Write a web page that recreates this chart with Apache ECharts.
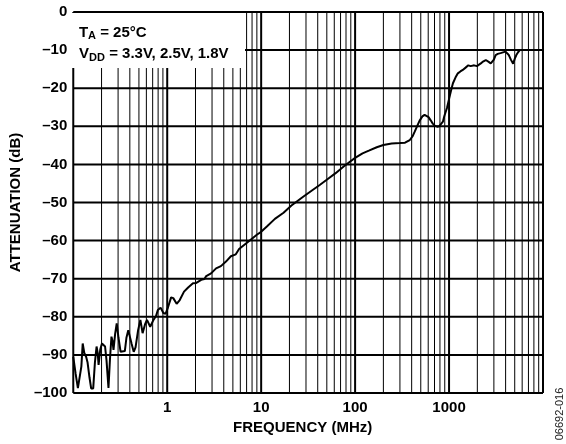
<!DOCTYPE html>
<html>
<head>
<meta charset="utf-8">
<script src="https://cdn.jsdelivr.net/npm/echarts@6/dist/echarts.min.js"></script>
<style>
  html, body { margin: 0; padding: 0; background: #fff; }
  #main { width: 566px; height: 444px; }
</style>
</head>
<body>
<div id="main"></div>
<script>
// 频率 (MHz) 与衰减 (dB)
var freqMHz = [
  0.100, 0.106, 0.112, 0.117, 0.122, 0.126, 0.131, 0.137, 0.142, 0.149,
  0.155, 0.163, 0.170, 0.177, 0.182, 0.186, 0.194, 0.202, 0.210, 0.218,
  0.226, 0.237, 0.246, 0.255, 0.262, 0.268, 0.279, 0.290, 0.303, 0.319,
  0.335, 0.354, 0.368, 0.385, 0.400, 0.417, 0.440, 0.460, 0.490, 0.518,
  0.547, 0.580, 0.609, 0.659, 0.714, 0.760, 0.795, 0.850, 0.910, 0.960,
  1.02, 1.10, 1.16, 1.26, 1.36, 1.51, 1.67, 1.88, 2.04, 2.30,
  2.49, 2.60, 2.93, 3.31, 3.73, 4.22, 4.76, 5.37, 5.82, 7.11,
  9.06, 10, 11.5, 14, 17.3, 21, 28, 35, 42, 52,
  62, 75, 88, 100, 120, 140, 170, 200, 245, 300,
  340, 382, 410, 431, 460, 486, 520, 549, 575, 605,
  640, 671, 710, 747, 785, 822, 860, 891, 950, 1005,
  1050, 1100, 1170, 1240, 1320, 1400, 1500, 1603, 1700, 1782,
  1850, 1918, 1980, 2042, 2178, 2300, 2460, 2550, 2643, 2780,
  2892, 3000, 3133, 3300, 3532, 3750, 3990, 4150, 4325, 4550,
  4808, 5000, 5200, 5450, 5662
];
var attenDb = [
  -90.5, -95, -98.7, -99.2, -93, -87.0, -89.5, -90.5, -92, -96,
  -98.8, -98.8, -92, -87.8, -89.5, -92.6, -88.5, -87, -87.5, -87.8,
  -91.5, -98.7, -91, -85.2, -86.5, -88.7, -84.5, -81.7, -85.5, -89.2,
  -89.3, -89.0, -85.5, -83.5, -84, -87, -89.2, -88, -83.5, -80.8,
  -84.3, -82, -80.8, -82.6, -80.8, -79.8, -78.2, -77.6, -79.0, -79.2,
  -77.5, -74.9, -75.1, -76.6, -75.6, -73.4, -72.3, -71.2, -71.1, -70.3,
  -70.1, -69.3, -68.6, -67.3, -66.7, -65.5, -64.1, -63.6, -62.2, -60.5,
  -58.4, -57.7, -56.3, -54.3, -52.7, -50.8, -48.5, -46.8, -45.4, -43.7,
  -42.3, -40.6, -39.3, -38.3, -37.1, -36.4, -35.5, -34.9, -34.5, -34.4,
  -34.3, -33.6, -32.6, -31.4, -29.8, -28.5, -27.4, -27.0, -27.2, -27.6,
  -28.5, -29.3, -29.9, -30.1, -30.0, -29.8, -28.8, -27.3, -25.2, -22.6,
  -20.6, -18.7, -17.2, -16.1, -15.6, -15.2, -14.6, -14.0, -14.2, -14.3,
  -14.0, -13.9, -14.2, -14.0, -13.5, -13.0, -12.6, -12.9, -13.1, -13.5,
  -13.9, -12.5, -11.3, -11.0, -10.8, -10.6, -10.4, -10.6, -11.3, -12.5,
  -13.6, -12.3, -11.3, -10.5, -10.0
];

// x轴标签只显示这几个
var xTickLabels = ['1', '10', '100', '1000'];
// 对数网格：十倍频程和里面的细线
var decades = [0.1, 1, 10, 100, 1000, 10000];
var minorMults = [2, 3, 4, 5, 6, 7, 8, 9];
// 水平网格线 (dB)，含上下边框
var yGridDb = [-100, -90, -80, -70, -60, -50, -40, -30, -20, -10, 0];
var xMin = 0.1, xMax = 10000, yMin = -100, yMax = 0;

var chart = echarts.init(document.getElementById('main'));

var lineData = freqMHz.map(function (f, i) { return [f, attenDb[i]]; });

// 网格线做成单独的折线系列
var gridSeries = [];
function gridLine(points, width) {
    gridSeries.push({
        type: 'line',
        data: points,
        z: 1,
        silent: true,
        showSymbol: false,
        clip: false,
        lineStyle: { color: '#000', width: width }
    });
}
decades.forEach(function (d, i) {
    gridLine([[d, yMin], [d, yMax]], 2);
    if (i < decades.length - 1) {
        minorMults.forEach(function (m) {
            var f = +(d * m).toPrecision(3);
            gridLine([[f, yMin], [f, yMax]], 1);
        });
    }
});
// 细的水平线在这里画不出来，统一用 2
yGridDb.forEach(function (v) {
    gridLine([[xMin, v], [xMax, v]], 2);
});

var font = '"Liberation Sans", Arial, Helvetica, sans-serif';

var option = {
    animation: false,
    backgroundColor: '#fff',
    grid: { left: 66, right: 23, top: 12, bottom: 51 },
    xAxis: {
        type: 'log',
        logBase: 10,
        min: xMin,
        max: xMax,
        name: 'FREQUENCY (MHz)',
        nameLocation: 'middle',
        nameGap: 26,
        nameTextStyle: {
            fontFamily: font, fontWeight: 'bold', fontSize: 15, color: '#000',
            padding: [0, 11, 0, 0]
        },
        axisLine: { show: false },
        axisTick: { show: false },
        axisLabel: {
            margin: 7,
            fontFamily: font, fontWeight: 'bold', fontSize: 15, color: '#000',
            showMinLabel: true, showMaxLabel: true,
            formatter: function (v) {
                var s = String(Math.round(v * 1000) / 1000);
                return xTickLabels.indexOf(s) >= 0 ? s : '';
            }
        },
        splitLine: { show: false }
    },
    yAxis: {
        type: 'value',
        min: yMin,
        max: yMax,
        interval: 10,
        name: 'ATTENUATION (dB)',
        nameLocation: 'middle',
        nameGap: 40,
        nameTextStyle: { fontFamily: font, fontWeight: 'bold', fontSize: 15, color: '#000' },
        axisLine: { show: false },
        axisTick: { show: false },
        axisLabel: {
            margin: 6,
            fontFamily: font, fontWeight: 'bold', fontSize: 15, color: '#000',
            formatter: function (v) { return v === 0 ? '0' : '\u2013' + Math.abs(v); }
        },
        splitLine: { show: false }
    },
    series: gridSeries.concat([
        {
            name: 'attenuation',
            type: 'line',
            data: lineData,
            z: 5,
            showSymbol: false,
            smooth: false,
            lineStyle: { color: '#000', width: 2 }
        }
    ]),
    graphic: [
        // 左上角白底说明
        { type: 'rect', z: 100, shape: { x: 68, y: 13, width: 177, height: 55 }, style: { fill: '#fff' } },
        { type: 'text', z: 101, x: 79, y: 32.5, style: { text: 'T', font: 'bold 15px ' + font, fill: '#000', verticalAlign: 'middle' } },
        { type: 'text', z: 101, x: 88, y: 36, style: { text: 'A', font: 'bold 11px ' + font, fill: '#000', verticalAlign: 'middle' } },
        { type: 'text', z: 101, x: 96, y: 32.5, style: { text: ' = 25°C', font: 'bold 15px ' + font, fill: '#000', verticalAlign: 'middle' } },
        { type: 'text', z: 101, x: 79, y: 53.5, style: { text: 'V', font: 'bold 15px ' + font, fill: '#000', verticalAlign: 'middle' } },
        { type: 'text', z: 101, x: 89, y: 58, style: { text: 'DD', font: 'bold 11px ' + font, fill: '#000', verticalAlign: 'middle' } },
        { type: 'text', z: 101, x: 105, y: 53.5, style: { text: ' = 3.3V, 2.5V, 1.8V', font: 'bold 15px ' + font, fill: '#000', verticalAlign: 'middle' } },
        // 图号
        {
            type: 'text', z: 101, x: 560, y: 414, rotation: Math.PI / 2,
            style: { text: '06692-016', font: '11px ' + font, fill: '#222', align: 'center', verticalAlign: 'middle' }
        }
    ]
};

chart.setOption(option);
</script>
</body>
</html>
